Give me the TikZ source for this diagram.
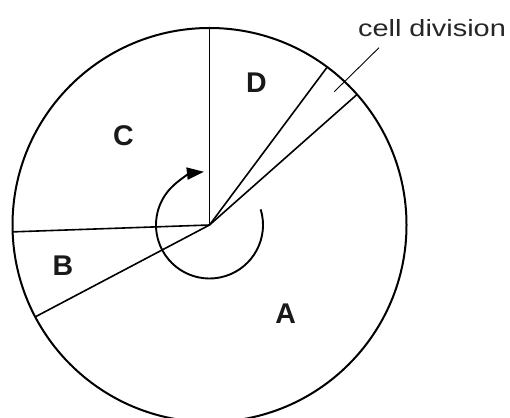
\documentclass[tikz,border=0pt]{standalone}
\usepackage{fontspec}
\usepackage{graphicx}
\setmainfont{Liberation Sans}
\usetikzlibrary{arrows.meta,calc}
\begin{document}
\begin{tikzpicture}[x=1pt,y=1pt,
  rim/.style={line width=2pt},
  sector/.style={line width=1.6pt},
  lbl/.style={font=\fontsize{28.5}{31}\selectfont\bfseries, inner sep=0pt, text=black!90},
  note/.style={font=\fontsize{23.5}{26}\selectfont, inner sep=0pt, anchor=base, text=black!85}]
\useasboundingbox (0,0) rectangle (510,417);
\coordinate (c) at (209.5,192);
\draw[rim] (c) circle[radius=197];
\coordinate (p90) at ($(c)+(90:197pt)$);
\coordinate (p182) at ($(c)+(182:197pt)$);
\coordinate (p208) at ($(c)+(207.8:197pt)$);
\coordinate (p53) at ($(c)+(53.3:197pt)$);
\coordinate (p41) at ($(c)+(41.5:197pt)$);
\draw[sector] (c) -- (p90);
\draw[sector] (c) -- (p182);
\draw[sector] (c) -- (p208);
\draw[sector] (c) -- (p53);
\draw[sector] (c) -- (p41);
\draw[line width=1.9pt, -{Triangle[length=17pt,width=12pt]}] ($(c)+(17:53.5pt)$) arc[start angle=17, end angle=-264, radius=53.5];
\node[lbl] (D) at (256.5,334.3) {D};
\node[lbl] (C) at (123.3,281) {C};
\node[lbl] (B) at (63,151.3) {B};
\node[lbl] (A) at (285.7,103) {A};
\node[note] (cd) at (432,380) {\scalebox{1.23}[1]{cell division}};
\coordinate (l1) at (379,369.3);
\coordinate (l2) at (334.3,325.3);
\draw[line width=0.9pt] (l1) -- (l2);
\end{tikzpicture}
\end{document}
